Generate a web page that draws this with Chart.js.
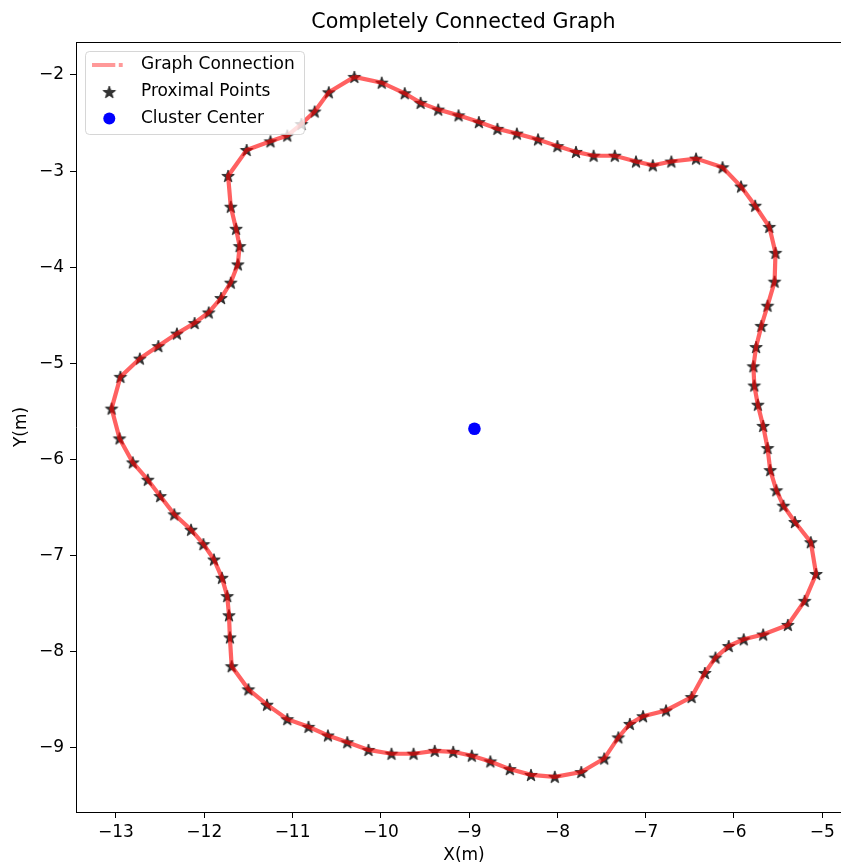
<!DOCTYPE html>
<html>
<head>
<meta charset="utf-8">
<script src="https://cdn.jsdelivr.net/npm/chart.js@4.4.1/dist/chart.umd.min.js"></script>
<style>
html,body{margin:0;padding:0;background:#ffffff;}
#wrap{width:841px;height:867px;position:relative;}
</style>
</head>
<body>
<div id="wrap"><canvas id="c" width="841" height="867"></canvas></div>
<script>
// ---- data ----
const pointX = [
 -10.30,-9.99,-9.73,-9.55,-9.35,-9.12,-8.89,-8.68,-8.46,-8.22,
 -8.00,-7.79,-7.59,-7.35,-7.11,-6.92,-6.71,-6.43,-6.13,-5.92,
 -5.76,-5.60,-5.53,-5.54,-5.62,-5.69,-5.75,-5.78,-5.77,-5.73,
 -5.67,-5.62,-5.59,-5.52,-5.44,-5.31,-5.13,-5.07,-5.20,-5.39,
 -5.67,-5.89,-6.06,-6.21,-6.33,-6.48,-6.77,-7.03,-7.18,-7.31,
 -7.47,-7.73,-8.03,-8.30,-8.54,-8.76,-8.97,-9.18,-9.39,-9.63,
 -9.88,-10.14,-10.38,-10.60,-10.82,-11.06,-11.29,-11.50,-11.69,-11.71,
 -11.72,-11.74,-11.80,-11.89,-12.01,-12.15,-12.34,-12.50,-12.64,-12.81,
 -12.96,-13.05,-12.95,-12.73,-12.52,-12.31,-12.11,-11.95,-11.81,-11.70,
 -11.62,-11.60,-11.64,-11.70,-11.73,-11.52,-11.25,-11.06,-10.90,-10.75,
 -10.59
];
const pointY = [
 -2.02,-2.08,-2.19,-2.29,-2.36,-2.42,-2.49,-2.56,-2.61,-2.67,
 -2.74,-2.80,-2.84,-2.84,-2.90,-2.94,-2.90,-2.87,-2.96,-3.16,
 -3.36,-3.58,-3.85,-4.15,-4.40,-4.61,-4.83,-5.03,-5.23,-5.43,
 -5.65,-5.88,-6.11,-6.32,-6.48,-6.65,-6.86,-7.19,-7.47,-7.72,
 -7.82,-7.87,-7.94,-8.06,-8.22,-8.47,-8.61,-8.67,-8.75,-8.89,
 -9.11,-9.25,-9.30,-9.28,-9.22,-9.14,-9.08,-9.04,-9.03,-9.06,
 -9.06,-9.02,-8.94,-8.87,-8.78,-8.70,-8.55,-8.39,-8.15,-7.85,
 -7.62,-7.42,-7.23,-7.04,-6.88,-6.73,-6.57,-6.38,-6.21,-6.03,
 -5.78,-5.47,-5.14,-4.95,-4.82,-4.69,-4.58,-4.47,-4.32,-4.16,
 -3.97,-3.78,-3.60,-3.37,-3.05,-2.78,-2.69,-2.63,-2.51,-2.38,
 -2.18
];
const centerX = [-8.94];
const centerY = [-5.68];
const xTicks = [-13,-12,-11,-10,-9,-8,-7,-6,-5];
const yTicks = [-9,-8,-7,-6,-5,-4,-3,-2];
const titleText = 'Completely Connected Graph';
const xLabel = 'X(m)';
const yLabel = 'Y(m)';
const legendLabels = ['Graph Connection','Proximal Points','Cluster Center'];

// ---- build ----
const FONT = "'DejaVu Sans', sans-serif";
const FS = 17;
const pts = pointX.map((x,i)=>({x:x, y:pointY[i]}));
const loop = pts.concat([pts[0]]);
const centre = centerX.map((x,i)=>({x:x, y:centerY[i]}));

function makeStar(fill){
  const s = 16, c = document.createElement('canvas');
  c.width = s; c.height = s;
  const g = c.getContext('2d');
  const R = 6.6, r = 2.7, cx = s/2, cy = s/2 + 0.6;
  g.beginPath();
  for(let k=0;k<10;k++){
    const rad = k%2===0 ? R : r;
    const a = -Math.PI/2 + k*Math.PI/5;
    const px = cx + rad*Math.cos(a), py = cy + rad*Math.sin(a);
    if(k===0) g.moveTo(px,py); else g.lineTo(px,py);
  }
  g.closePath();
  g.fillStyle = fill; g.fill();
  g.lineWidth = 0.8; g.strokeStyle = fill; g.stroke();
  return c;
}
const starImg = makeStar('rgba(0,0,0,0.8)');

const decor = {
  id:'decor',
  afterDraw(chart){
    const ctx = chart.ctx, ca = chart.chartArea;
    ctx.save();
    // top spine
    ctx.strokeStyle = '#000'; ctx.lineWidth = 1;
    ctx.beginPath(); ctx.moveTo(ca.left, ca.top+0.5); ctx.lineTo(ca.right, ca.top+0.5); ctx.stroke();
    // title
    ctx.fillStyle = '#000';
    ctx.font = '20.6px ' + FONT;
    ctx.textAlign = 'center'; ctx.textBaseline = 'middle';
    ctx.fillText(titleText, 463.5, 23);
    // axis labels
    ctx.font = FS + 'px ' + FONT;
    ctx.fillText(xLabel, 464, 856);
    ctx.save();
    ctx.translate(22, 427); ctx.rotate(-Math.PI/2);
    ctx.fillText(yLabel, 0, 0);
    ctx.restore();
    // legend
    const L = 85.5, T = 51.5, W = 219, H = 83, rr = 4;
    ctx.beginPath();
    ctx.moveTo(L+rr,T); ctx.lineTo(L+W-rr,T); ctx.quadraticCurveTo(L+W,T,L+W,T+rr);
    ctx.lineTo(L+W,T+H-rr); ctx.quadraticCurveTo(L+W,T+H,L+W-rr,T+H);
    ctx.lineTo(L+rr,T+H); ctx.quadraticCurveTo(L,T+H,L,T+H-rr);
    ctx.lineTo(L,T+rr); ctx.quadraticCurveTo(L,T,L+rr,T); ctx.closePath();
    ctx.fillStyle = 'rgba(255,255,255,0.8)'; ctx.fill();
    ctx.strokeStyle = 'rgba(204,204,204,0.8)'; ctx.lineWidth = 1; ctx.stroke();
    // line handle
    ctx.strokeStyle = 'rgba(255,0,0,0.4)'; ctx.lineWidth = 4.2;
    ctx.setLineDash([23.3,3.5,4,3.5]);
    ctx.beginPath(); ctx.moveTo(92,65); ctx.lineTo(122.7,65); ctx.stroke();
    ctx.setLineDash([]);
    // star
    ctx.drawImage(starImg, 109.3-8, 92-8);
    // circle
    ctx.fillStyle = '#0000ff';
    ctx.beginPath(); ctx.arc(109.3,118.5,6,0,Math.PI*2); ctx.fill();
    // texts
    ctx.fillStyle = '#000'; ctx.font = FS + 'px ' + FONT;
    ctx.textAlign = 'left'; ctx.textBaseline = 'middle';
    ctx.fillText(legendLabels[0], 141, 65);
    ctx.fillText(legendLabels[1], 141, 92);
    ctx.fillText(legendLabels[2], 141, 118.5);
    ctx.restore();
  }
};

const fmt = v => (v<0 ? '\u2212' + Math.abs(v) : String(v));

new Chart(document.getElementById('c'), {
  type:'scatter',
  data:{
    datasets:[
      {
        label: legendLabels[0],
        type:'line',
        data: loop,
        showLine:true,
        borderColor:'rgba(255,0,0,0.62)',
        borderWidth:4.2,
        pointRadius:0,
        tension:0,
        fill:false,
        order:0
      },
      {
        label: legendLabels[1],
        data: pts,
        pointStyle: starImg,
        pointRadius: 7,
        order:1
      },
      {
        label: legendLabels[2],
        data: centre,
        pointStyle:'circle',
        pointRadius:6.3,
        backgroundColor:'#0000ff',
        borderColor:'#0000ff',
        borderWidth:0,
        order:2
      }
    ]
  },
  options:{
    responsive:false,
    animation:false,
    devicePixelRatio:1,
    layout:{autoPadding:false, padding:{top:42,left:0,right:0,bottom:0}},
    plugins:{legend:{display:false},title:{display:false},tooltip:{enabled:false}},
    events:[],
    scales:{
      x:{
        type:'linear', min:-13.453, max:-4.788,
        afterBuildTicks: s => { s.ticks = xTicks.map(v=>({value:v})); },
        afterFit: s => { s.height = 55; s.paddingLeft = 0; s.paddingRight = 0; },
        grid:{drawOnChartArea:false, drawTicks:true, tickLength:6, tickColor:'#000', tickWidth:1},
        border:{display:true, color:'#000', width:1},
        ticks:{color:'#000', font:{family:FONT, size:FS}, padding:4, maxRotation:0, autoSkip:false, callback: v => fmt(v)}
      },
      y:{
        type:'linear', min:-9.666, max:-1.657,
        afterBuildTicks: s => { s.ticks = yTicks.map(v=>({value:v})); },
        afterFit: s => { s.width = 76; s.paddingTop = 0; s.paddingBottom = 0; },
        grid:{drawOnChartArea:false, drawTicks:true, tickLength:6, tickColor:'#000', tickWidth:1},
        border:{display:true, color:'#000', width:1},
        ticks:{color:'#000', font:{family:FONT, size:FS}, padding:6, autoSkip:false, callback: v => fmt(v)}
      }
    }
  },
  plugins:[decor]
});
</script>
</body>
</html>
